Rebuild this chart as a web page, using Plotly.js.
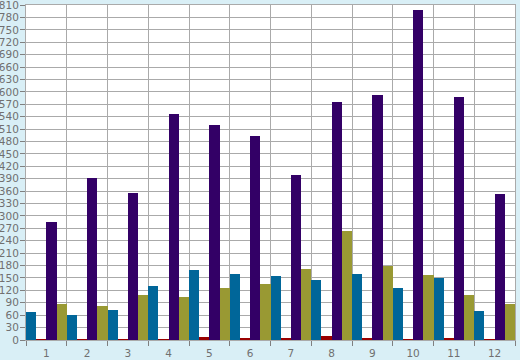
<!DOCTYPE html>
<html>
<head>
<meta charset="utf-8">
<script src="https://cdn.plot.ly/plotly-3.0.1.min.js"></script>
<style>html,body{margin:0;padding:0;background:#d9eff6;}#chart{width:520px;height:360px;}</style>
</head>
<body>
<div id="chart"></div>
<script>
var categories = ["1","2","3","4","5","6","7","8","9","10","11","12"];
var seriesBlue   = [68, 60, 73, 131, 169, 160, 155, 145, 160, 126, 150, 70];
var seriesRed    = [2, 2, 2, 2, 7, 6, 4, 10, 4, 2, 4, 2];
var seriesPurple = [285, 392, 355, 547, 520, 493, 399, 575, 592, 798, 588, 353];
var seriesOlive  = [87, 82, 109, 104, 126, 135, 172, 264, 180, 157, 109, 87];
var yTicks = [];
for (var v = 0; v <= 810; v += 30) yTicks.push(v);

function bar(name, y, color) {
  return {type: 'bar', name: name, x: categories, y: y,
          marker: {color: color, line: {width: 0}}, hoverinfo: 'x+y'};
}
var data = [
  bar('Blue', seriesBlue, '#006699'),
  bar('Red', seriesRed, '#990000'),
  bar('Purple', seriesPurple, '#330066'),
  bar('Olive', seriesOlive, '#999933')
];
var layout = {
  width: 520, height: 360,
  margin: {l: 26, r: 5, t: 5, b: 20, pad: 0},
  paper_bgcolor: '#d9eff6', plot_bgcolor: '#ffffff',
  showlegend: false,
  barmode: 'group', bargap: 0, bargroupgap: 0,
  font: {family: 'DejaVu Sans, Verdana, sans-serif', size: 10, color: '#707070'},
  xaxis: {type: 'category', tickson: 'boundaries', range: [-0.5, 11.5],
          showgrid: true, gridcolor: '#aaaaaa', gridwidth: 1,
          showline: true, linecolor: '#aaaaaa', linewidth: 1, mirror: true,
          ticks: 'outside', ticklen: 5, tickcolor: '#808080', tickwidth: 1,
          ticklabelstandoff: 3,
          tickfont: {size: 10.5, color: '#707070'}, fixedrange: true},
  yaxis: {range: [0, 810.05], tickvals: yTicks, ticktext: yTicks.map(String),
          showgrid: true, gridcolor: '#aaaaaa', gridwidth: 1, zeroline: false,
          showline: true, linecolor: '#aaaaaa', linewidth: 1, mirror: true,
          ticks: 'outside', ticklen: 5, tickcolor: '#808080', tickwidth: 1,
          ticklabelstandoff: -1, ticklabeloverflow: 'allow',
          tickfont: {size: 10.5, color: '#707070'}, fixedrange: true}
};
Plotly.newPlot('chart', data, layout, {displayModeBar: false, staticPlot: true});
</script>
</body>
</html>
